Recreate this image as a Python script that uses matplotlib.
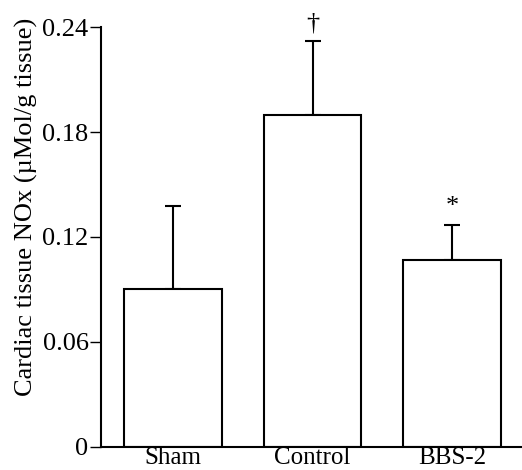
import matplotlib
matplotlib.use('Agg')
from matplotlib import pyplot as plt

groups = ['Sham', 'Control', 'BBS-2']
means = [0.090, 0.190, 0.107]
upper = [0.138, 0.232, 0.127]
marks = ['', '\u2020', '*']
yticks = [0, 0.06, 0.12, 0.18, 0.24]
ytick_labels = ['0', '0.06', '0.12', '0.18', '0.24']

plt.rcParams['font.family'] = ['Liberation Serif', 'DejaVu Serif']

fig = plt.figure(figsize=(5.22, 4.70), dpi=100)
ax = fig.add_axes([0.1935, 0.049, 0.805, 0.8935])

x = list(range(len(groups)))
errs = [u - m for u, m in zip(upper, means)]
ax.bar(x, means, width=0.7, color='white', edgecolor='black', linewidth=1.5, zorder=2)
ax.errorbar(x, means, yerr=[[0] * len(x), errs], fmt='none', ecolor='black',
            elinewidth=1.5, capsize=6, capthick=1.5, zorder=1)
for xi, u, m in zip(x, upper, marks):
    if m:
        ax.text(xi, u + 0.004, m, ha='center', va='bottom', fontsize=19)

ax.set_xlim(-0.515, 2.495)
ax.set_ylim(0, 0.24)
ax.set_yticks(yticks)
ax.set_yticklabels(ytick_labels, fontsize=19)
ax.set_xticks(x)
ax.set_xticklabels(groups, fontsize=18)
ax.tick_params(axis='x', length=0, pad=0)
ax.tick_params(axis='y', direction='out', length=8, width=1.0, pad=1)
ax.set_ylabel('Cardiac tissue NOx (\u00b5Mol/g tissue)', fontsize=19)
ax.yaxis.set_label_coords(-0.15, 0.571)

for s in ['top', 'right']:
    ax.spines[s].set_visible(False)
for s in ['left', 'bottom']:
    ax.spines[s].set_linewidth(1.5)

fig.savefig('out.png', dpi=100)
